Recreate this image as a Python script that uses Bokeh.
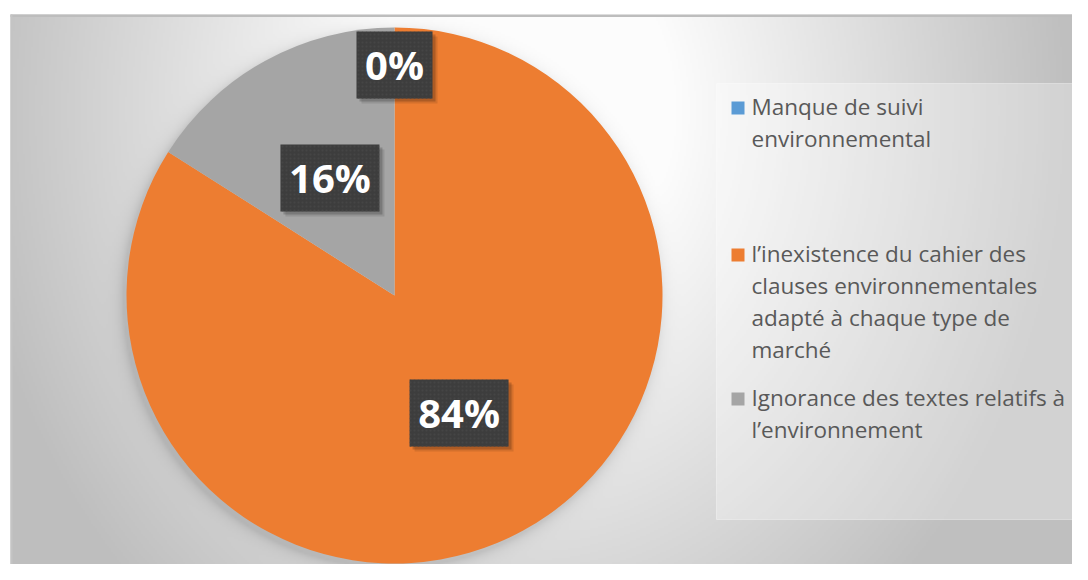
import numpy as np
from bokeh.plotting import figure
from bokeh.models import Range1d, ColumnDataSource
from bokeh.core.properties import value
from bokeh.embed import file_html
from bokeh.resources import INLINE

# ---------------- data ----------------
categories = [
    "Manque de suivi\nenvironnemental",
    "l’inexistence du cahier des\nclauses environnementales\nadapté à chaque type de\nmarché",
    "Ignorance des textes relatifs à\nl’environnement",
]
percent = [0, 84, 16]
colors = ["#5B9BD5", "#ED7D31", "#A5A5A5"]
pct_labels = [f"{v}%" for v in percent]

# ---------------- layout (reference pixel coordinates) ----------------
W, H = 1072, 564
def Y(py):
    return H - py

CX, CY, R = 394, 295, 268
label_frac = [0.86, 0.5, 0.5]
legend_first_baseline = [115, 262, 406]
LINE_H = 32

p = figure(width=W, height=H, x_range=Range1d(0, W), y_range=Range1d(0, H),
           output_backend="svg", toolbar_location=None, min_border=0,
           background_fill_color="white", border_fill_color="white")
p.axis.visible = False
p.grid.visible = False
p.outline_line_color = None

# ---------------- background gradient (chart area) ----------------
Wi, Hi = 539, 283
px = 10 + (np.arange(Wi) + 0.5) * 2
py = 14 + (np.arange(Hi) + 0.5) * 2
PX, PY = np.meshgrid(px, py)
d = np.sqrt((PX - 520) ** 2 + ((PY - 110) / 1.2) ** 2)
f = np.clip((d - 150) / 400, 0, 1)
g = 253 - f * 62
rs = np.sqrt((PX - 391) ** 2 + (PY - 299) ** 2) - R
g = g - 26 * np.exp(-np.clip(rs, 0, None) / 6)
g = np.clip(g, 0, 255).astype(np.uint8)
img = np.empty((Hi, Wi), dtype=np.uint32)
view = img.view(dtype=np.uint8).reshape((Hi, Wi, 4))
view[..., 0] = g
view[..., 1] = g
view[..., 2] = g
view[..., 3] = 255
p.image_rgba(image=[img[::-1]], x=10, y=Y(580), dw=1078, dh=566)

# frame edges
p.quad(left=10, right=1088, top=Y(14), bottom=Y(16.5), fill_color="#bdbdbd", line_color=None)
p.quad(left=10, right=12, top=Y(14), bottom=Y(580), fill_color="#c4c4c4", line_color=None)

# ---------------- pie ----------------
vals = np.array(percent, dtype=float)
cum = np.concatenate([[0], np.cumsum(vals)]) / vals.sum()
start = np.pi / 2 - 2 * np.pi * cum[:-1]
end = np.pi / 2 - 2 * np.pi * cum[1:]
mask = vals > 0
src = ColumnDataSource(dict(start=start[mask], end=end[mask],
                            color=[c for c, m in zip(colors, mask) if m]))
p.wedge(x=CX, y=Y(CY), radius=R, start_angle="start", end_angle="end",
        direction="clock", fill_color="color", line_color=None, source=src)

# ---------------- data labels ----------------
mid = (cum[:-1] + cum[1:]) / 2
theta = np.pi / 2 - 2 * np.pi * mid
lx = CX + np.array(label_frac) * R * np.cos(theta)
ly = Y(CY) + np.array(label_frac) * R * np.sin(theta)
bw = [23 * len(t) + 30 for t in pct_labels]
lab = ColumnDataSource(dict(x=lx, y=ly, w=bw, t=pct_labels,
                            xs1=lx + 3, ys1=ly - 3, xs2=lx + 5, ys2=ly - 5,
                            ty=ly + 0.5))
p.rect(x="xs2", y="ys2", width="w", height=67, width_units="screen", height_units="screen",
       fill_color="black", fill_alpha=0.10, line_color=None, source=lab)
p.rect(x="xs1", y="ys1", width="w", height=67, width_units="screen", height_units="screen",
       fill_color="black", fill_alpha=0.18, line_color=None, source=lab)
p.rect(x="x", y="y", width="w", height=67, width_units="screen", height_units="screen",
       fill_color="#3d3d3d", line_color=None, hatch_pattern=".", hatch_color="#454545",
       hatch_scale=4, hatch_weight=1, source=lab)
p.text(x="x", y="ty", text="t", text_align="center", text_baseline="alphabetic",
       text_font=value("Open Sans"), text_font_style="bold", text_font_size="40px",
       text_color="white", source=lab)

# ---------------- legend ----------------
p.quad(left=716, right=1085, top=Y(83), bottom=Y(519), fill_color="white", fill_alpha=0.3,
       line_color="white", line_alpha=0.35)
sq_x, sq_y, tx, ty, tt = [], [], [], [], []
for cat, col, b in zip(categories, colors, legend_first_baseline):
    sq_x.append(737.5)
    sq_y.append(Y(b - 7.5))
    for k, line in enumerate(cat.split("\n")):
        tx.append(751)
        ty.append(Y(b + k * LINE_H) + 9)
        tt.append(line)
p.scatter(x=sq_x, y=sq_y, marker="square", size=13, fill_color=colors, line_color=None)
p.text(x=tx, y=ty, text=tt, text_align="left", text_baseline="alphabetic",
       text_font=value("Open Sans"), text_font_size="22.5px", text_color="#595959")

open("out.html", "w").write(file_html(p, INLINE))
